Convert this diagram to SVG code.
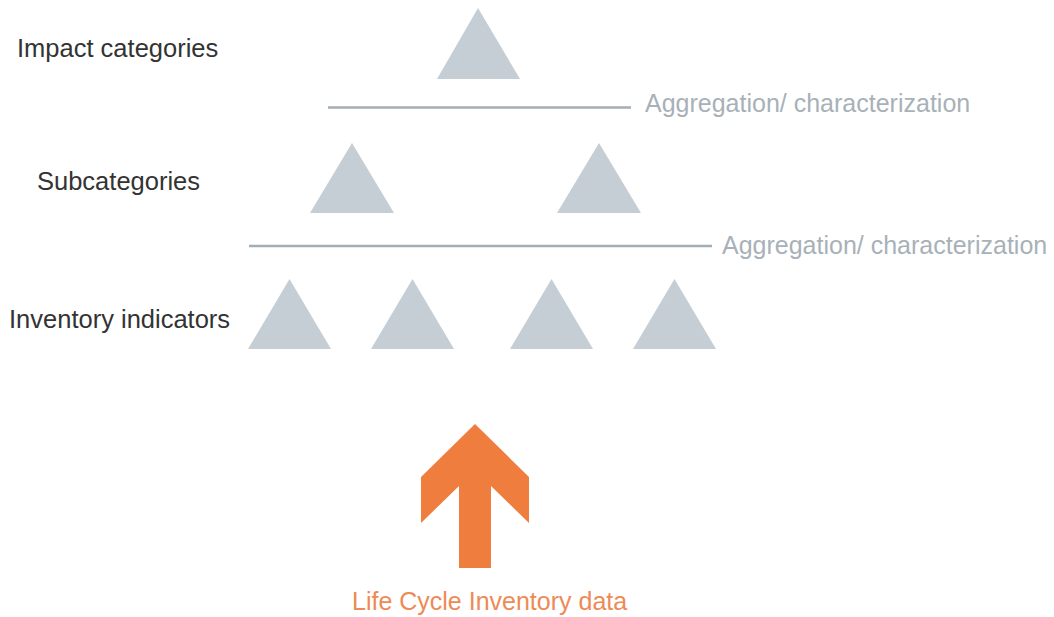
<svg xmlns="http://www.w3.org/2000/svg" width="1054" height="617" viewBox="0 0 1054 617">
<style>
.tri{fill:#c5ced5}
.lbl{font-family:"Liberation Sans",Arial,sans-serif;font-size:25.5px;fill:#333333}
.agg{font-family:"Liberation Sans",Arial,sans-serif;font-size:25px;fill:#a8b1b8}
.sep{stroke:#a3aeb6;stroke-width:2.5}
</style>
<rect width="1054" height="617" fill="#ffffff"/>
<g id="labels">
<text class="lbl" x="17" y="57">Impact categories</text>
<text class="lbl" x="37" y="190">Subcategories</text>
<text class="lbl" x="9" y="328">Inventory indicators</text>
</g>
<g id="impact-category">
<polygon class="tri" points="478,8 520,79 437,79"/>
</g>
<g id="subcategories">
<polygon class="tri" points="352,143 394,213 310,213"/>
<polygon class="tri" points="599,143 641,213 557,213"/>
</g>
<g id="inventory-indicators">
<polygon class="tri" points="289.5,279 331,349 248,349"/>
<polygon class="tri" points="412.5,279 454,349 371,349"/>
<polygon class="tri" points="551.5,279 593,349 510,349"/>
<polygon class="tri" points="674.5,279 716,349 633,349"/>
</g>
<g id="connectors">
<line class="sep" x1="328" y1="107.5" x2="631" y2="107.5"/>
<text class="agg" x="645" y="112">Aggregation/ characterization</text>
<line class="sep" x1="249" y1="246" x2="712" y2="246"/>
<text class="agg" x="722" y="254">Aggregation/ characterization</text>
</g>
<g id="lci-data">
<polygon fill="#ee7d3e" points="475,424 529,477 529,523 491,486 491,568 459,568 459,486 421,523 421,477"/>
<text x="352" y="610" font-family="Liberation Sans, Arial, sans-serif" font-size="25px" fill="#ee8a55">Life Cycle Inventory data</text>
</g>
</svg>
